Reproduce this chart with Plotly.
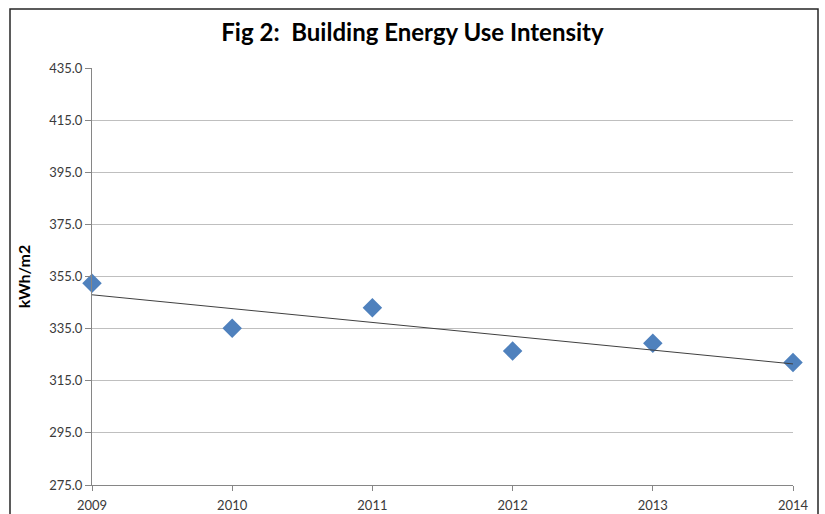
import numpy as np
import plotly.graph_objects as go

years = [2009, 2010, 2011, 2012, 2013, 2014]
eui = [352.4, 335.1, 343.0, 326.4, 329.4, 322.0]
y_ticks = [275, 295, 315, 335, 355, 375, 395, 415, 435]
x_ticks = years

coef = np.polyfit(years, eui, 1)
trend_x = [years[0], years[-1]]
trend_y = [float(np.polyval(coef, x)) for x in trend_x]

font_main = "Lato, Open Sans, Liberation Sans, sans-serif"

fig = go.Figure()
fig.add_trace(go.Scatter(
    x=years, y=eui, mode="markers",
    marker=dict(symbol="diamond", size=15, color="#4F81BD", line=dict(width=0)),
    name="EUI", showlegend=False, cliponaxis=False,
))
fig.add_trace(go.Scatter(
    x=trend_x, y=trend_y, mode="lines",
    line=dict(color="#404040", width=1),
    name="Linear trend", showlegend=False, cliponaxis=False,
))

fig.update_layout(
    width=825, height=514,
    margin=dict(l=92, r=32, t=68, b=29, autoexpand=False),
    paper_bgcolor="white", plot_bgcolor="white",
    title=dict(text="<b>Fig 2:  Building Energy Use Intensity</b>", x=0.5, xanchor="center",
               y=1 - 33 / 514, yanchor="middle",
               font=dict(family=font_main, size=24, color="#000000")),
    font=dict(family=font_main, size=13, color="#3a3a3a"),
)
fig.update_xaxes(
    range=[2009, 2014], tickmode="array", tickvals=x_ticks, ticktext=[str(v) for v in x_ticks],
    showgrid=False, zeroline=False, showline=True, linecolor="#868686", linewidth=1,
    ticks="outside", ticklen=5, tickcolor="#868686", automargin=False,
    ticklabelstandoff=3,
    tickfont=dict(size=13, color="#3a3a3a"),
)
fig.update_yaxes(
    range=[275, 435], tickmode="array", tickvals=y_ticks, ticktext=[f"{v:.1f}" for v in y_ticks],
    showgrid=True, gridcolor="#BFBFBF", gridwidth=1, zeroline=False,
    showline=True, linecolor="#868686", linewidth=1,
    ticks="outside", ticklen=6, tickcolor="#868686", automargin=False,
    tickfont=dict(size=13, color="#3a3a3a"),
    title=dict(text="<b>kWh/m2</b>", font=dict(size=16, color="#000000"), standoff=14),
)
# chart border
fig.add_shape(type="rect", xref="paper", yref="paper",
              x0=(10 - 92) / 701, x1=(818 - 92) / 701,
              y0=-0.2, y1=(485 - 9) / 417,
              line=dict(color="#262626", width=1.5), fillcolor="rgba(0,0,0,0)", layer="below")

fig.write_html("out.html", config={"displayModeBar": False},
               post_script="document.body.style.margin='0';document.body.style.overflow='hidden';")
